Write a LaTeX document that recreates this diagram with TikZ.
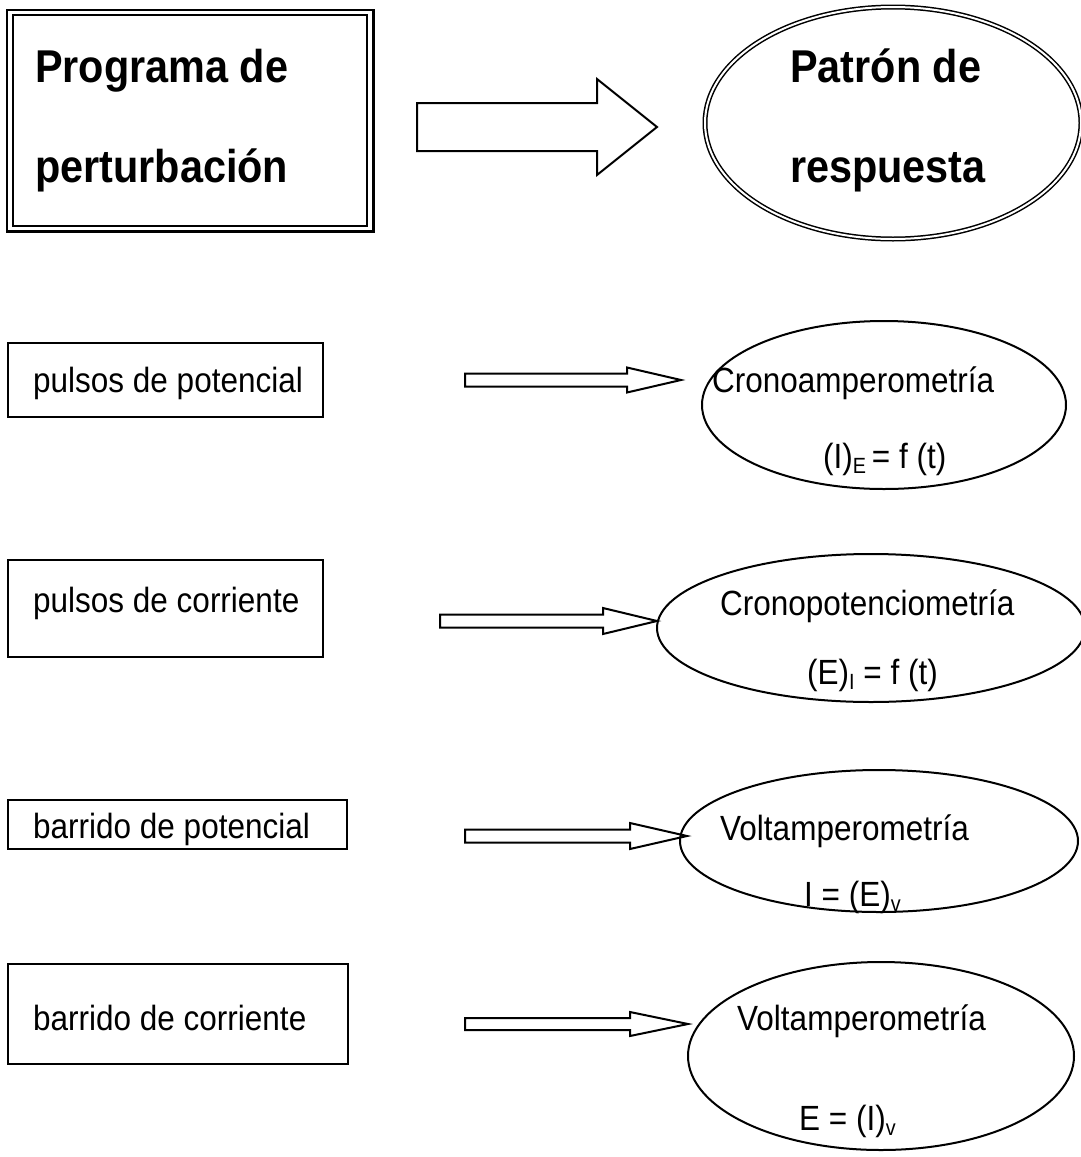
\documentclass[tikz,border=0pt]{standalone}
\usepackage{fontspec}
\setmainfont{Liberation Sans}[FakeStretch=0.9]
\usetikzlibrary{shapes.geometric}
\newcommand\lowsub[1]{\raisebox{-5pt}{\fontsize{22}{22}\selectfont #1}}
\newcommand\myblockarrow[6]{%
  \draw[arrowln] (#1,#4-#5) -- (#2,#4-#5) -- (#2,#4-#6) -- (#3,#4) -- (#2,#4+#6) -- (#2,#4+#5) -- (#1,#4+#5) -- cycle;}
\tikzset{
  boxln/.style={draw, rectangle, line width=2.4pt, inner sep=0pt},
  ell/.style={draw, ellipse, line width=2pt, inner sep=0pt},
  lbl/.style={anchor=base west, inner sep=0pt, font=\fontsize{35}{42}\selectfont},
  bigl/.style={anchor=base west, inner sep=0pt, font=\fontsize{46}{55}\selectfont\bfseries},
  arrowln/.style={line width=2pt, line join=miter},
}
\begin{document}
\begin{tikzpicture}[x=1pt,y=-1pt]
\useasboundingbox (0,0) rectangle (1080,1157);
\fill[white] (0,0) rectangle (1080,1157);

% top box (double border)
\node[boxln, line width=2.8pt, minimum width=354pt, minimum height=211pt] (b0) at (190,120.5) {};
\draw[line width=2.2pt] ([xshift=-5pt,yshift=4pt]b0.north west) rectangle ([xshift=5pt,yshift=-4pt]b0.south east);
\node[bigl] (t0a) at (35,82) {Programa de};
\node[bigl] (t0b) at (35,182) {perturbación};

% top arrow
\myblockarrow{417}{597}{657}{127}{24}{48}

% top ellipse (double)
\node[draw, ellipse, inner sep=0pt, line width=1.5pt, double, double distance=2pt,
      minimum width=376pt, minimum height=232pt] (e0) at (893,123) {};
\node[bigl] (p0a) at (790,82) {Patrón de};
\node[bigl] (p0b) at (790,182) {respuesta};

% row 1
\node[boxln, minimum width=315pt, minimum height=74pt] (b1) at (165.5,380) {};
\node[lbl] (t1) at (33,392) {pulsos de potencial};
\myblockarrow{465}{627}{681}{380}{6.5}{12.5}
\node[ell, minimum width=364pt, minimum height=168pt] (e1) at (884,405) {};
\node[lbl] (r1a) at (712,392) {Cronoamperometría};
\node[lbl] (r1b) at (823,468) {(I)\lowsub{E}\,= f (t)};

% row 2
\node[boxln, minimum width=315pt, minimum height=97pt] (b2) at (165.5,608.5) {};
\node[lbl] (t2) at (33,612) {pulsos de corriente};
\myblockarrow{440}{603}{657}{621}{6.5}{13}
\node[ell, minimum width=428pt, minimum height=148pt] (e2) at (871,628) {};
\node[lbl] (r2a) at (720,615) {Cronopotenciometría};
\node[lbl] (r2b) at (807,684) {(E)\lowsub{I} = f (t)};

% row 3
\node[boxln, minimum width=339pt, minimum height=49pt] (b3) at (177.5,824.5) {};
\node[lbl] (t3) at (33,838) {barrido de potencial};
\myblockarrow{465}{630}{687}{836}{6.5}{13}
\node[ell, minimum width=398pt, minimum height=142pt] (e3) at (879,841) {};
\node[lbl] (r3a) at (720,840) {Voltamperometría};
\node[lbl] (r3b) at (804,906) {I = (E)\lowsub{v}};

% row 4
\node[boxln, minimum width=340pt, minimum height=100pt] (b4) at (178,1014) {};
\node[lbl] (t4) at (33,1030) {barrido de corriente};
\myblockarrow{465}{630}{688}{1024}{6}{12}
\node[ell, minimum width=386pt, minimum height=188pt] (e4) at (881,1056) {};
\node[lbl] (r4a) at (737,1030) {Voltamperometría};
\node[lbl] (r4b) at (799,1130) {E = (I)\lowsub{v}};
\end{tikzpicture}
\end{document}
